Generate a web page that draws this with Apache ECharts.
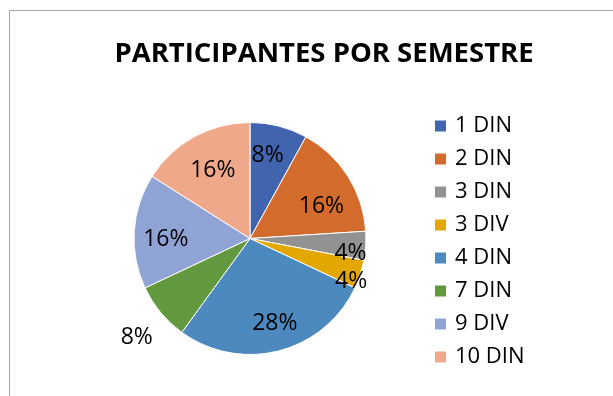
<!DOCTYPE html>
<html>
<head>
<meta charset="utf-8">
<script src="https://cdn.jsdelivr.net/npm/echarts@6/dist/echarts.min.js"></script>
<style>
  html, body { margin: 0; padding: 0; background: #ffffff; }
  #chart { width: 613px; height: 396px; }
</style>
</head>
<body>
<div id="chart"></div>
<script>
// Participants per semester group
const categories = ['1 DIN', '2 DIN', '3 DIN', '3 DIV', '4 DIN', '7 DIN', '9 DIV', '10 DIN'];
const participants = [2, 4, 1, 1, 7, 2, 4, 4];
const titleText = 'PARTICIPANTES POR SEMESTRE';

// Slice colours, one per category
const sliceColors = ['#4064AD', '#D26B2B', '#929292', '#E2A800', '#4C89BE', '#62993F', '#8FA3D4', '#F0A88A'];

// Geometry of the pie
const R = 116;
const pieCenter = [250, 238.5];

// Where each percentage label sits: distance from the centre (fraction of R)
// and a small clockwise nudge (degrees) away from the slice's middle angle.
const labelPlacement = {
  '1 DIN':  { dist: 0.71, turn: -2.5 },
  '2 DIN':  { dist: 0.65, turn: 8 },
  '3 DIN':  { dist: 0.85, turn: 4.8 },
  '3 DIV':  { dist: 0.92, turn: 4.9 },
  '4 DIN':  { dist: 0.74, turn: -1.8 },
  '7 DIN':  { dist: 1.27, turn: -1.5 },
  '9 DIV':  { dist: 0.70, turn: -4 },
  '10 DIN': { dist: 0.64, turn: 0 }
};

const FONT = '"Open Sans", "Noto Sans", sans-serif';

const mainSeries = {
  type: 'pie',
  center: pieCenter,
  radius: [0, R],
  startAngle: 90,
  clockwise: true,
  animation: false,
  label: { show: false },
  labelLine: { show: false },
  emphasis: { scale: false },
  itemStyle: { borderColor: '#ffffff', borderWidth: 1 },
  data: categories.map((name, i) => ({
    name: name,
    value: participants[i],
    itemStyle: { color: sliceColors[i] }
  }))
};

// One invisible ring per label: an inside label is drawn mid-ring,
// so the ring is chosen to put the text at the wanted distance.
const labelSeries = categories.map(labelName => {
  const p = labelPlacement[labelName];
  const ring = p.dist <= 1 ? [(2 * p.dist - 1) * R, R] : [R, (2 * p.dist - 1) * R];
  return {
    type: 'pie',
    center: pieCenter,
    radius: ring,
    startAngle: 90 - p.turn,
    clockwise: true,
    animation: false,
    silent: true,
    legendHoverLink: false,
    avoidLabelOverlap: false,
    labelLine: { show: false },
    emphasis: { disabled: true },
    itemStyle: { color: 'rgba(0,0,0,0)', borderWidth: 0 },
    label: {
      position: 'inside',
      rotate: 0,
      formatter: '{d}%',
      fontFamily: FONT,
      fontSize: 23,
      color: '#000000'
    },
    data: categories.map((name, i) => ({
      name: name,
      value: participants[i],
      label: { show: name === labelName }
    }))
  };
});

const chart = echarts.init(document.getElementById('chart'), null, { renderer: 'canvas' });
chart.setOption({
  backgroundColor: '#ffffff',
  animation: false,
  color: sliceColors,
  title: {
    text: titleText,
    left: 319,
    top: 35,
    textAlign: 'center',
    textStyle: {
      fontFamily: FONT,
      fontWeight: 'bold',
      fontSize: 27.5,
      color: '#000000'
    }
  },
  legend: {
    orient: 'vertical',
    left: 428,
    top: 110,
    icon: 'rect',
    itemWidth: 13,
    itemHeight: 13,
    itemGap: 11,
    selectedMode: false,
    data: categories,
    textStyle: {
      fontFamily: FONT,
      fontSize: 22,
      color: '#000000',
      padding: [0, 0, 0, 3]
    }
  },
  graphic: [{
    type: 'rect',
    silent: true,
    z: -1,
    shape: { x: 9.5, y: 10.5, width: 800, height: 600 },
    style: { fill: 'none', stroke: '#a6a6a6', lineWidth: 1 }
  }],
  series: [mainSeries].concat(labelSeries)
});
</script>
</body>
</html>
